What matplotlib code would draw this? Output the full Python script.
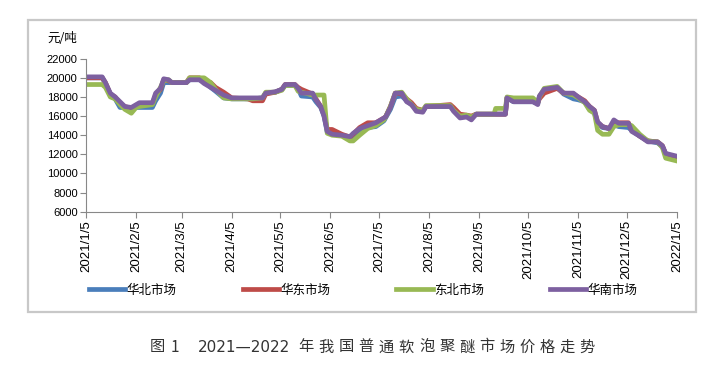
# 2021-2022 soft foam polyether price trend, four regional markets
import pandas as pd
import matplotlib.pyplot as plt
from matplotlib.patches import Rectangle

plt.rcParams['font.family'] = ['Liberation Sans', 'Noto Sans CJK SC', 'DejaVu Sans']

dates = ['2021-01-05', '2021-01-15', '2021-01-17', '2021-01-20', '2021-01-23', '2021-01-26',
         '2021-01-29', '2021-02-02', '2021-02-05', '2021-02-07', '2021-02-15', '2021-02-17',
         '2021-02-20', '2021-02-22', '2021-02-25', '2021-02-27', '2021-03-08', '2021-03-10',
         '2021-03-16', '2021-03-19', '2021-03-23', '2021-03-26', '2021-03-31', '2021-04-05',
         '2021-04-15', '2021-04-18', '2021-04-24', '2021-04-26', '2021-05-02', '2021-05-06',
         '2021-05-08', '2021-05-14', '2021-05-16', '2021-05-18', '2021-05-25', '2021-05-27',
         '2021-05-30', '2021-06-01', '2021-06-03', '2021-06-06', '2021-06-12', '2021-06-17',
         '2021-06-19', '2021-06-23', '2021-06-28', '2021-07-03', '2021-07-08', '2021-07-09',
         '2021-07-12', '2021-07-15', '2021-07-19', '2021-07-22', '2021-07-25', '2021-07-28',
         '2021-08-01', '2021-08-03', '2021-08-18', '2021-08-20', '2021-08-24', '2021-08-28',
         '2021-08-31', '2021-09-03', '2021-09-14', '2021-09-15', '2021-09-21', '2021-09-22',
         '2021-09-26', '2021-10-08', '2021-10-11', '2021-10-12', '2021-10-15', '2021-10-23',
         '2021-10-27', '2021-11-02', '2021-11-05', '2021-11-09', '2021-11-12', '2021-11-15',
         '2021-11-17', '2021-11-20', '2021-11-24', '2021-11-27', '2021-11-30', '2021-12-06',
         '2021-12-08', '2021-12-13', '2021-12-18', '2021-12-24', '2021-12-27', '2021-12-29',
         '2022-01-05']

huabei = [20000, 20000, 19400, 18300, 17800, 16900, 16900, 16900, 16900, 16900, 16900, 17600,
          18400, 19500, 19500, 19500, 19500, 19800, 19800, 19600, 19000, 18600, 17900, 17800,
          17800, 17800, 17900, 18400, 18500, 18800, 19200, 19200, 18900, 18100, 18000, 17500,
          16900, 16000, 14300, 14200, 14000, 13700, 13900, 14400, 14800, 14900, 15500, 15800,
          16700, 18000, 18100, 17600, 17200, 16700, 16500, 17000, 17000, 16700, 16000, 16000,
          15800, 16200, 16200, 16200, 16200, 17900, 17500, 17500, 17300, 18000, 18700, 19000,
          18300, 17800, 17700, 17500, 16700, 16300, 15200, 14800, 14700, 15100, 14900, 14800,
          14500, 13900, 13400, 13200, 12800, 12000, 11600]

huadong = [20000, 20000, 19500, 18300, 18000, 17300, 17000, 16800, 17100, 17300, 17300, 18200,
           18800, 19800, 19700, 19500, 19500, 20000, 20000, 19600, 19500, 19000, 18500, 17900,
           17800, 17600, 17600, 18300, 18500, 18800, 19300, 19300, 19000, 18800, 18300, 17800,
           17000, 16200, 14600, 14600, 14100, 13800, 14100, 14800, 15300, 15300, 15800, 15900,
           17000, 18400, 18300, 17800, 17400, 16800, 16600, 17000, 17200, 16900, 16200, 16100,
           16000, 16200, 16200, 16200, 16200, 17900, 17600, 17600, 17400, 17800, 18400, 18900,
           18400, 18300, 18000, 17600, 17000, 16600, 15300, 14900, 14700, 15300, 15300, 15300,
           14600, 13900, 13400, 13300, 12900, 12000, 11700]

dongbei = [19300, 19300, 19000, 18000, 17800, 17200, 16700, 16300, 16900, 17000, 17200, 18000,
           19000, 19700, 19800, 19500, 19500, 20000, 20000, 20000, 19500, 18800, 17900, 17800,
           17800, 17800, 17900, 18500, 18500, 18700, 19200, 19200, 18600, 18500, 18200, 18200,
           18200, 18200, 14200, 14000, 13900, 13400, 13400, 14000, 14700, 15000, 15600, 15900,
           17000, 18400, 18500, 17800, 17200, 16700, 16600, 17100, 17100, 16600, 16000, 16100,
           15900, 16200, 16200, 16800, 16800, 18000, 17900, 17900, 17400, 18000, 18900, 19100,
           18400, 18200, 17900, 17400, 16600, 16300, 14500, 14100, 14100, 14900, 15100, 15100,
           15000, 14100, 13400, 13300, 12700, 11600, 11300]

huanan = [20100, 20100, 19500, 18400, 18000, 17500, 17000, 16900, 17200, 17400, 17400, 18400,
          18900, 19900, 19800, 19500, 19500, 19800, 19800, 19400, 19000, 18700, 18200, 17900,
          17900, 17900, 17900, 18400, 18550, 18800, 19300, 19300, 18900, 18400, 18400, 17700,
          17000, 16000, 14400, 14100, 14000, 13850, 14200, 14700, 15000, 15300, 15800, 15900,
          16900, 18400, 18400, 17500, 17200, 16500, 16400, 17000, 17000, 16500, 15800, 15900,
          15600, 16200, 16200, 16200, 16200, 17900, 17500, 17500, 17200, 18100, 18800, 19000,
          18400, 18400, 18000, 17500, 17000, 16600, 15400, 14900, 14700, 15600, 15250, 15250,
          14400, 13900, 13300, 13300, 12900, 12100, 11800]

names = ['华北市场', '华东市场', '东北市场', '华南市场']
colors = ['#4a7ebb', '#be4b48', '#98b954', '#7d60a0']

d = pd.to_datetime(dates)

fig = plt.figure(figsize=(7.15, 3.82), dpi=100)
fig.patches.append(Rectangle((28 / 715, 1 - 312 / 382), 668 / 715, 292 / 382,
                             transform=fig.transFigure, fill=False,
                             edgecolor='#c8c8c8', linewidth=1.6))

ax = fig.add_axes([86 / 715, 1 - 211.7 / 382, 591 / 715, 153 / 382])
for vals, name, c in zip([huabei, huadong, dongbei, huanan], names, colors):
    ax.plot(d, vals, color=c, linewidth=3.4, label=name, solid_joinstyle='round')

ax.set_xlim(pd.Timestamp('2021-01-05'), pd.Timestamp('2022-01-05'))
ax.set_ylim(6000, 22000)
ax.set_yticks(range(6000, 22001, 2000))
ticks = pd.date_range('2021-01-01', '2022-01-01', freq='MS') + pd.Timedelta(days=4)
ax.set_xticks(ticks)
ax.set_xticklabels([f'{t.year}/{t.month}/{t.day}' for t in ticks], rotation=90, fontsize=9.5)
ax.tick_params(axis='y', labelsize=8, length=4, color='#888888', pad=2)
ax.tick_params(axis='x', length=4, color='#888888', pad=2)
for s in ['top', 'right']:
    ax.spines[s].set_visible(False)
for s in ['left', 'bottom']:
    ax.spines[s].set_color('#888888')
ax.text(-0.065, 1.13, '元/吨', transform=ax.transAxes, fontsize=9,
        family=['Noto Sans CJK SC'], va='center', ha='left')

fig.legend(loc='center', bbox_to_anchor=(0.508, 1 - 290 / 382), ncol=4, frameon=False,
           prop={'family': 'Noto Sans CJK SC', 'size': 9}, handlelength=2.9,
           handletextpad=0.1, columnspacing=5.3)

# caption, spread out like the printed one
cap_y = 1 - 347 / 382
cap_kw = dict(ha='center', va='center', fontsize=11, color='#333333',
              family=['Noto Sans CJK SC', 'DejaVu Sans'])
fig.text(157.5 / 715, cap_y, '图', **cap_kw)
fig.text(175 / 715, cap_y, '1', **cap_kw)
fig.text(244 / 715, cap_y, '2021—2022', ha='center', va='center', fontsize=11,
         color='#333333', family=['DejaVu Sans'])
for i, ch in enumerate('年我国普通软泡聚醚市场价格走势'):
    fig.text((306 + 20.1 * i) / 715, cap_y, ch, **cap_kw)

fig.savefig('out.png', dpi=100)
